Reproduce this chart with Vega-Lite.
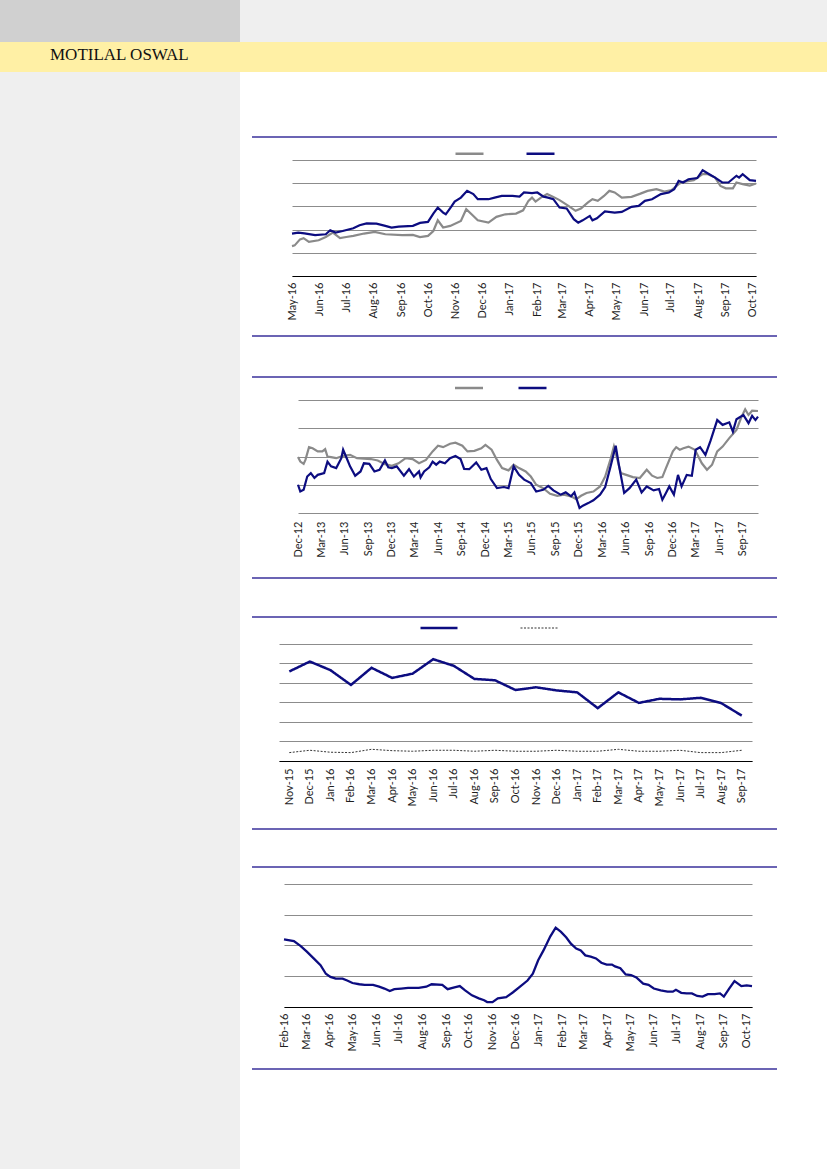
{
  "$schema": "https://vega.github.io/schema/vega-lite/v6.json",
  "padding": 0,
  "background": "#ffffff",
  "spacing": 0,
  "bounds": "full",
  "config": {
    "view": {"stroke": null},
    "axisX": {"labelAngle": -90, "labelFont": "Lato", "labelFontSize": 11, "labelColor": "#1e1e1e", "ticks": false, "grid": false, "domainColor": "#000000", "domainWidth": 1, "labelOverlap": false, "labelFlush": false, "labelBound": false, "labelPadding": 6},
    "axisY": {"labels": false, "ticks": false, "domain": false, "grid": true, "gridColor": "#8c8c8c", "gridWidth": 1}
  },
  "datasets": {
    "c1": [
      {"date": "2016-05-01", "series": "Series 1", "value": 62.9},
      {"date": "2016-05-04", "series": "Series 1", "value": 63.2},
      {"date": "2016-05-10", "series": "Series 1", "value": 65.8},
      {"date": "2016-05-14", "series": "Series 1", "value": 66.3},
      {"date": "2016-05-20", "series": "Series 1", "value": 64.7},
      {"date": "2016-05-31", "series": "Series 1", "value": 65.4},
      {"date": "2016-06-08", "series": "Series 1", "value": 66.8},
      {"date": "2016-06-16", "series": "Series 1", "value": 68.7},
      {"date": "2016-06-24", "series": "Series 1", "value": 66.3},
      {"date": "2016-07-01", "series": "Series 1", "value": 66.8},
      {"date": "2016-07-09", "series": "Series 1", "value": 67.3},
      {"date": "2016-07-21", "series": "Series 1", "value": 68.3},
      {"date": "2016-08-02", "series": "Series 1", "value": 69.0},
      {"date": "2016-08-14", "series": "Series 1", "value": 68.0},
      {"date": "2016-09-02", "series": "Series 1", "value": 67.6},
      {"date": "2016-09-14", "series": "Series 1", "value": 67.7},
      {"date": "2016-09-22", "series": "Series 1", "value": 66.8},
      {"date": "2016-10-01", "series": "Series 1", "value": 67.3},
      {"date": "2016-10-07", "series": "Series 1", "value": 69.4},
      {"date": "2016-10-12", "series": "Series 1", "value": 74.0},
      {"date": "2016-10-18", "series": "Series 1", "value": 70.9},
      {"date": "2016-10-26", "series": "Series 1", "value": 71.6},
      {"date": "2016-11-07", "series": "Series 1", "value": 73.7},
      {"date": "2016-11-13", "series": "Series 1", "value": 78.8},
      {"date": "2016-11-19", "series": "Series 1", "value": 76.6},
      {"date": "2016-11-26", "series": "Series 1", "value": 74.0},
      {"date": "2016-12-08", "series": "Series 1", "value": 73.0},
      {"date": "2016-12-17", "series": "Series 1", "value": 75.5},
      {"date": "2016-12-27", "series": "Series 1", "value": 76.6},
      {"date": "2017-01-08", "series": "Series 1", "value": 76.9},
      {"date": "2017-01-16", "series": "Series 1", "value": 78.3},
      {"date": "2017-01-22", "series": "Series 1", "value": 82.4},
      {"date": "2017-01-26", "series": "Series 1", "value": 83.8},
      {"date": "2017-01-30", "series": "Series 1", "value": 82.1},
      {"date": "2017-02-05", "series": "Series 1", "value": 83.8},
      {"date": "2017-02-12", "series": "Series 1", "value": 85.3},
      {"date": "2017-02-19", "series": "Series 1", "value": 84.1},
      {"date": "2017-02-26", "series": "Series 1", "value": 82.7},
      {"date": "2017-03-08", "series": "Series 1", "value": 80.2},
      {"date": "2017-03-16", "series": "Series 1", "value": 78.1},
      {"date": "2017-03-22", "series": "Series 1", "value": 79.1},
      {"date": "2017-03-30", "series": "Series 1", "value": 81.7},
      {"date": "2017-04-04", "series": "Series 1", "value": 83.1},
      {"date": "2017-04-10", "series": "Series 1", "value": 82.4},
      {"date": "2017-04-17", "series": "Series 1", "value": 84.5},
      {"date": "2017-04-23", "series": "Series 1", "value": 86.7},
      {"date": "2017-04-29", "series": "Series 1", "value": 86.0},
      {"date": "2017-05-07", "series": "Series 1", "value": 83.8},
      {"date": "2017-05-18", "series": "Series 1", "value": 84.1},
      {"date": "2017-05-28", "series": "Series 1", "value": 85.5},
      {"date": "2017-06-05", "series": "Series 1", "value": 86.7},
      {"date": "2017-06-15", "series": "Series 1", "value": 87.4},
      {"date": "2017-06-24", "series": "Series 1", "value": 86.4},
      {"date": "2017-07-02", "series": "Series 1", "value": 87.0},
      {"date": "2017-07-10", "series": "Series 1", "value": 89.6},
      {"date": "2017-07-15", "series": "Series 1", "value": 90.6},
      {"date": "2017-07-27", "series": "Series 1", "value": 91.3},
      {"date": "2017-08-06", "series": "Series 1", "value": 93.9},
      {"date": "2017-08-12", "series": "Series 1", "value": 93.9},
      {"date": "2017-08-20", "series": "Series 1", "value": 92.4},
      {"date": "2017-08-26", "series": "Series 1", "value": 88.8},
      {"date": "2017-09-01", "series": "Series 1", "value": 87.8},
      {"date": "2017-09-09", "series": "Series 1", "value": 87.8},
      {"date": "2017-09-13", "series": "Series 1", "value": 90.3},
      {"date": "2017-09-20", "series": "Series 1", "value": 89.6},
      {"date": "2017-09-28", "series": "Series 1", "value": 89.0},
      {"date": "2017-10-05", "series": "Series 1", "value": 89.9},
      {"date": "2016-05-01", "series": "Series 2", "value": 68.3},
      {"date": "2016-05-08", "series": "Series 2", "value": 68.7},
      {"date": "2016-05-15", "series": "Series 2", "value": 68.4},
      {"date": "2016-05-27", "series": "Series 2", "value": 67.6},
      {"date": "2016-06-08", "series": "Series 2", "value": 68.0},
      {"date": "2016-06-13", "series": "Series 2", "value": 69.7},
      {"date": "2016-06-19", "series": "Series 2", "value": 68.7},
      {"date": "2016-06-27", "series": "Series 2", "value": 69.4},
      {"date": "2016-07-09", "series": "Series 2", "value": 70.6},
      {"date": "2016-07-16", "series": "Series 2", "value": 71.9},
      {"date": "2016-07-24", "series": "Series 2", "value": 72.7},
      {"date": "2016-08-04", "series": "Series 2", "value": 72.6},
      {"date": "2016-08-14", "series": "Series 2", "value": 71.6},
      {"date": "2016-08-21", "series": "Series 2", "value": 70.9},
      {"date": "2016-08-29", "series": "Series 2", "value": 71.3},
      {"date": "2016-09-14", "series": "Series 2", "value": 71.6},
      {"date": "2016-09-22", "series": "Series 2", "value": 72.9},
      {"date": "2016-10-01", "series": "Series 2", "value": 73.3},
      {"date": "2016-10-07", "series": "Series 2", "value": 76.9},
      {"date": "2016-10-12", "series": "Series 2", "value": 79.5},
      {"date": "2016-10-18", "series": "Series 2", "value": 77.3},
      {"date": "2016-10-21", "series": "Series 2", "value": 76.6},
      {"date": "2016-10-27", "series": "Series 2", "value": 79.8},
      {"date": "2016-10-31", "series": "Series 2", "value": 82.1},
      {"date": "2016-11-07", "series": "Series 2", "value": 83.8},
      {"date": "2016-11-14", "series": "Series 2", "value": 86.7},
      {"date": "2016-11-21", "series": "Series 2", "value": 85.3},
      {"date": "2016-11-26", "series": "Series 2", "value": 83.1},
      {"date": "2016-12-08", "series": "Series 2", "value": 83.1},
      {"date": "2016-12-15", "series": "Series 2", "value": 83.8},
      {"date": "2016-12-23", "series": "Series 2", "value": 84.5},
      {"date": "2017-01-04", "series": "Series 2", "value": 84.5},
      {"date": "2017-01-12", "series": "Series 2", "value": 84.2},
      {"date": "2017-01-17", "series": "Series 2", "value": 86.0},
      {"date": "2017-01-26", "series": "Series 2", "value": 85.7},
      {"date": "2017-02-01", "series": "Series 2", "value": 86.0},
      {"date": "2017-02-08", "series": "Series 2", "value": 84.2},
      {"date": "2017-02-13", "series": "Series 2", "value": 83.8},
      {"date": "2017-02-19", "series": "Series 2", "value": 83.1},
      {"date": "2017-02-26", "series": "Series 2", "value": 79.5},
      {"date": "2017-03-06", "series": "Series 2", "value": 79.1},
      {"date": "2017-03-14", "series": "Series 2", "value": 74.5},
      {"date": "2017-03-19", "series": "Series 2", "value": 73.0},
      {"date": "2017-03-24", "series": "Series 2", "value": 74.0},
      {"date": "2017-04-01", "series": "Series 2", "value": 75.9},
      {"date": "2017-04-04", "series": "Series 2", "value": 74.0},
      {"date": "2017-04-09", "series": "Series 2", "value": 74.9},
      {"date": "2017-04-18", "series": "Series 2", "value": 77.8},
      {"date": "2017-04-29", "series": "Series 2", "value": 77.3},
      {"date": "2017-05-07", "series": "Series 2", "value": 77.6},
      {"date": "2017-05-18", "series": "Series 2", "value": 79.8},
      {"date": "2017-05-26", "series": "Series 2", "value": 80.2},
      {"date": "2017-06-02", "series": "Series 2", "value": 82.4},
      {"date": "2017-06-10", "series": "Series 2", "value": 83.1},
      {"date": "2017-06-20", "series": "Series 2", "value": 85.3},
      {"date": "2017-06-29", "series": "Series 2", "value": 86.0},
      {"date": "2017-07-05", "series": "Series 2", "value": 87.4},
      {"date": "2017-07-10", "series": "Series 2", "value": 91.0},
      {"date": "2017-07-15", "series": "Series 2", "value": 90.3},
      {"date": "2017-07-21", "series": "Series 2", "value": 91.7},
      {"date": "2017-07-31", "series": "Series 2", "value": 92.2},
      {"date": "2017-08-06", "series": "Series 2", "value": 95.6},
      {"date": "2017-08-12", "series": "Series 2", "value": 94.2},
      {"date": "2017-08-20", "series": "Series 2", "value": 92.4},
      {"date": "2017-08-28", "series": "Series 2", "value": 90.3},
      {"date": "2017-09-04", "series": "Series 2", "value": 90.3},
      {"date": "2017-09-13", "series": "Series 2", "value": 93.2},
      {"date": "2017-09-16", "series": "Series 2", "value": 92.4},
      {"date": "2017-09-20", "series": "Series 2", "value": 93.9},
      {"date": "2017-09-28", "series": "Series 2", "value": 91.3},
      {"date": "2017-10-05", "series": "Series 2", "value": 91.0}
    ],
    "c2": [
      {"date": "2012-12-01", "series": "Series 1", "value": 19.8},
      {"date": "2012-12-10", "series": "Series 1", "value": 18.2},
      {"date": "2012-12-23", "series": "Series 1", "value": 17.4},
      {"date": "2012-12-30", "series": "Series 1", "value": 18.8},
      {"date": "2013-01-13", "series": "Series 1", "value": 23.3},
      {"date": "2013-01-27", "series": "Series 1", "value": 22.9},
      {"date": "2013-02-16", "series": "Series 1", "value": 21.8},
      {"date": "2013-03-06", "series": "Series 1", "value": 21.8},
      {"date": "2013-03-17", "series": "Series 1", "value": 22.6},
      {"date": "2013-03-26", "series": "Series 1", "value": 20.0},
      {"date": "2013-04-09", "series": "Series 1", "value": 19.8},
      {"date": "2013-04-29", "series": "Series 1", "value": 19.4},
      {"date": "2013-05-26", "series": "Series 1", "value": 20.2},
      {"date": "2013-06-22", "series": "Series 1", "value": 20.6},
      {"date": "2013-07-19", "series": "Series 1", "value": 19.4},
      {"date": "2013-08-15", "series": "Series 1", "value": 19.2},
      {"date": "2013-09-11", "series": "Series 1", "value": 19.1},
      {"date": "2013-10-08", "series": "Series 1", "value": 18.6},
      {"date": "2013-11-05", "series": "Series 1", "value": 17.3},
      {"date": "2013-12-02", "series": "Series 1", "value": 16.7},
      {"date": "2013-12-28", "series": "Series 1", "value": 17.6},
      {"date": "2014-01-25", "series": "Series 1", "value": 19.4},
      {"date": "2014-02-21", "series": "Series 1", "value": 19.1},
      {"date": "2014-03-18", "series": "Series 1", "value": 17.6},
      {"date": "2014-04-14", "series": "Series 1", "value": 18.8},
      {"date": "2014-05-10", "series": "Series 1", "value": 21.8},
      {"date": "2014-05-31", "series": "Series 1", "value": 23.8},
      {"date": "2014-06-20", "series": "Series 1", "value": 23.3},
      {"date": "2014-07-17", "series": "Series 1", "value": 24.5},
      {"date": "2014-08-07", "series": "Series 1", "value": 24.9},
      {"date": "2014-09-03", "series": "Series 1", "value": 23.8},
      {"date": "2014-09-23", "series": "Series 1", "value": 21.8},
      {"date": "2014-10-20", "series": "Series 1", "value": 22.0},
      {"date": "2014-11-16", "series": "Series 1", "value": 22.9},
      {"date": "2014-12-02", "series": "Series 1", "value": 24.1},
      {"date": "2014-12-26", "series": "Series 1", "value": 22.4},
      {"date": "2015-01-16", "series": "Series 1", "value": 18.8},
      {"date": "2015-02-05", "series": "Series 1", "value": 15.9},
      {"date": "2015-03-02", "series": "Series 1", "value": 15.1},
      {"date": "2015-03-22", "series": "Series 1", "value": 17.1},
      {"date": "2015-04-12", "series": "Series 1", "value": 15.9},
      {"date": "2015-05-08", "series": "Series 1", "value": 14.7},
      {"date": "2015-05-28", "series": "Series 1", "value": 12.9},
      {"date": "2015-06-18", "series": "Series 1", "value": 10.0},
      {"date": "2015-07-15", "series": "Series 1", "value": 8.8},
      {"date": "2015-08-11", "series": "Series 1", "value": 6.8},
      {"date": "2015-09-08", "series": "Series 1", "value": 6.1},
      {"date": "2015-10-04", "series": "Series 1", "value": 6.5},
      {"date": "2015-11-01", "series": "Series 1", "value": 5.9},
      {"date": "2015-11-21", "series": "Series 1", "value": 4.9},
      {"date": "2015-12-10", "series": "Series 1", "value": 6.1},
      {"date": "2015-12-31", "series": "Series 1", "value": 7.1},
      {"date": "2016-01-27", "series": "Series 1", "value": 7.6},
      {"date": "2016-02-22", "series": "Series 1", "value": 9.4},
      {"date": "2016-03-13", "series": "Series 1", "value": 12.9},
      {"date": "2016-04-03", "series": "Series 1", "value": 19.1},
      {"date": "2016-04-16", "series": "Series 1", "value": 23.5},
      {"date": "2016-04-29", "series": "Series 1", "value": 19.1},
      {"date": "2016-05-13", "series": "Series 1", "value": 14.1},
      {"date": "2016-06-03", "series": "Series 1", "value": 13.5},
      {"date": "2016-06-29", "series": "Series 1", "value": 12.7},
      {"date": "2016-07-26", "series": "Series 1", "value": 12.4},
      {"date": "2016-08-22", "series": "Series 1", "value": 15.3},
      {"date": "2016-09-12", "series": "Series 1", "value": 13.2},
      {"date": "2016-10-02", "series": "Series 1", "value": 12.4},
      {"date": "2016-10-22", "series": "Series 1", "value": 12.7},
      {"date": "2016-11-05", "series": "Series 1", "value": 15.9},
      {"date": "2016-12-02", "series": "Series 1", "value": 21.8},
      {"date": "2016-12-15", "series": "Series 1", "value": 23.3},
      {"date": "2016-12-29", "series": "Series 1", "value": 22.4},
      {"date": "2017-01-12", "series": "Series 1", "value": 22.9},
      {"date": "2017-02-01", "series": "Series 1", "value": 23.5},
      {"date": "2017-02-26", "series": "Series 1", "value": 22.4},
      {"date": "2017-03-25", "series": "Series 1", "value": 17.6},
      {"date": "2017-04-14", "series": "Series 1", "value": 15.3},
      {"date": "2017-05-04", "series": "Series 1", "value": 17.1},
      {"date": "2017-05-24", "series": "Series 1", "value": 21.8},
      {"date": "2017-06-14", "series": "Series 1", "value": 23.5},
      {"date": "2017-07-10", "series": "Series 1", "value": 26.5},
      {"date": "2017-08-07", "series": "Series 1", "value": 29.4},
      {"date": "2017-08-27", "series": "Series 1", "value": 34.1},
      {"date": "2017-09-10", "series": "Series 1", "value": 36.7},
      {"date": "2017-09-23", "series": "Series 1", "value": 34.7},
      {"date": "2017-10-07", "series": "Series 1", "value": 36.2},
      {"date": "2017-10-30", "series": "Series 1", "value": 36.1},
      {"date": "2012-12-01", "series": "Series 2", "value": 10.0},
      {"date": "2012-12-10", "series": "Series 2", "value": 7.6},
      {"date": "2012-12-23", "series": "Series 2", "value": 8.2},
      {"date": "2013-01-06", "series": "Series 2", "value": 12.9},
      {"date": "2013-01-20", "series": "Series 2", "value": 14.1},
      {"date": "2013-02-03", "series": "Series 2", "value": 12.4},
      {"date": "2013-02-16", "series": "Series 2", "value": 13.5},
      {"date": "2013-03-13", "series": "Series 2", "value": 14.1},
      {"date": "2013-03-26", "series": "Series 2", "value": 18.2},
      {"date": "2013-04-09", "series": "Series 2", "value": 16.5},
      {"date": "2013-04-29", "series": "Series 2", "value": 15.9},
      {"date": "2013-05-19", "series": "Series 2", "value": 19.4},
      {"date": "2013-05-26", "series": "Series 2", "value": 22.4},
      {"date": "2013-06-09", "series": "Series 2", "value": 19.4},
      {"date": "2013-06-22", "series": "Series 2", "value": 16.5},
      {"date": "2013-07-12", "series": "Series 2", "value": 13.2},
      {"date": "2013-08-02", "series": "Series 2", "value": 14.7},
      {"date": "2013-08-15", "series": "Series 2", "value": 17.6},
      {"date": "2013-09-05", "series": "Series 2", "value": 17.4},
      {"date": "2013-09-25", "series": "Series 2", "value": 14.7},
      {"date": "2013-10-15", "series": "Series 2", "value": 15.3},
      {"date": "2013-11-05", "series": "Series 2", "value": 18.6},
      {"date": "2013-11-18", "series": "Series 2", "value": 16.2},
      {"date": "2013-12-02", "series": "Series 2", "value": 15.9},
      {"date": "2013-12-21", "series": "Series 2", "value": 16.5},
      {"date": "2014-01-18", "series": "Series 2", "value": 13.2},
      {"date": "2014-02-07", "series": "Series 2", "value": 15.5},
      {"date": "2014-02-26", "series": "Series 2", "value": 12.9},
      {"date": "2014-03-18", "series": "Series 2", "value": 14.7},
      {"date": "2014-03-24", "series": "Series 2", "value": 12.6},
      {"date": "2014-04-07", "series": "Series 2", "value": 14.7},
      {"date": "2014-04-27", "series": "Series 2", "value": 16.2},
      {"date": "2014-05-10", "series": "Series 2", "value": 18.2},
      {"date": "2014-05-24", "series": "Series 2", "value": 17.1},
      {"date": "2014-06-07", "series": "Series 2", "value": 18.2},
      {"date": "2014-06-27", "series": "Series 2", "value": 17.6},
      {"date": "2014-07-17", "series": "Series 2", "value": 19.4},
      {"date": "2014-08-07", "series": "Series 2", "value": 20.2},
      {"date": "2014-08-27", "series": "Series 2", "value": 19.1},
      {"date": "2014-09-10", "series": "Series 2", "value": 15.6},
      {"date": "2014-09-30", "series": "Series 2", "value": 15.5},
      {"date": "2014-10-27", "series": "Series 2", "value": 17.9},
      {"date": "2014-11-16", "series": "Series 2", "value": 15.3},
      {"date": "2014-12-06", "series": "Series 2", "value": 15.9},
      {"date": "2014-12-23", "series": "Series 2", "value": 12.0},
      {"date": "2015-01-16", "series": "Series 2", "value": 8.8},
      {"date": "2015-02-12", "series": "Series 2", "value": 9.2},
      {"date": "2015-03-02", "series": "Series 2", "value": 8.8},
      {"date": "2015-03-22", "series": "Series 2", "value": 16.5},
      {"date": "2015-04-12", "series": "Series 2", "value": 13.5},
      {"date": "2015-05-02", "series": "Series 2", "value": 11.8},
      {"date": "2015-05-28", "series": "Series 2", "value": 10.6},
      {"date": "2015-06-18", "series": "Series 2", "value": 7.6},
      {"date": "2015-07-15", "series": "Series 2", "value": 8.2},
      {"date": "2015-08-04", "series": "Series 2", "value": 9.6},
      {"date": "2015-08-24", "series": "Series 2", "value": 8.0},
      {"date": "2015-09-21", "series": "Series 2", "value": 6.5},
      {"date": "2015-10-11", "series": "Series 2", "value": 7.3},
      {"date": "2015-11-01", "series": "Series 2", "value": 5.9},
      {"date": "2015-11-14", "series": "Series 2", "value": 7.3},
      {"date": "2015-12-04", "series": "Series 2", "value": 1.8},
      {"date": "2015-12-17", "series": "Series 2", "value": 2.6},
      {"date": "2016-01-07", "series": "Series 2", "value": 3.5},
      {"date": "2016-01-27", "series": "Series 2", "value": 4.5},
      {"date": "2016-02-22", "series": "Series 2", "value": 6.5},
      {"date": "2016-03-13", "series": "Series 2", "value": 9.2},
      {"date": "2016-04-03", "series": "Series 2", "value": 16.5},
      {"date": "2016-04-23", "series": "Series 2", "value": 23.8},
      {"date": "2016-05-06", "series": "Series 2", "value": 16.7},
      {"date": "2016-05-26", "series": "Series 2", "value": 7.1},
      {"date": "2016-06-16", "series": "Series 2", "value": 8.8},
      {"date": "2016-07-12", "series": "Series 2", "value": 11.8},
      {"date": "2016-08-02", "series": "Series 2", "value": 7.3},
      {"date": "2016-08-22", "series": "Series 2", "value": 9.4},
      {"date": "2016-09-18", "series": "Series 2", "value": 8.0},
      {"date": "2016-10-09", "series": "Series 2", "value": 8.5},
      {"date": "2016-10-22", "series": "Series 2", "value": 4.7},
      {"date": "2016-11-05", "series": "Series 2", "value": 7.1},
      {"date": "2016-11-18", "series": "Series 2", "value": 9.4},
      {"date": "2016-12-06", "series": "Series 2", "value": 6.5},
      {"date": "2016-12-22", "series": "Series 2", "value": 13.5},
      {"date": "2017-01-05", "series": "Series 2", "value": 9.4},
      {"date": "2017-01-25", "series": "Series 2", "value": 13.5},
      {"date": "2017-02-14", "series": "Series 2", "value": 13.2},
      {"date": "2017-03-01", "series": "Series 2", "value": 22.4},
      {"date": "2017-03-18", "series": "Series 2", "value": 23.3},
      {"date": "2017-04-08", "series": "Series 2", "value": 20.6},
      {"date": "2017-04-28", "series": "Series 2", "value": 25.6},
      {"date": "2017-05-24", "series": "Series 2", "value": 32.9},
      {"date": "2017-06-14", "series": "Series 2", "value": 31.2},
      {"date": "2017-07-10", "series": "Series 2", "value": 32.1},
      {"date": "2017-07-24", "series": "Series 2", "value": 28.8},
      {"date": "2017-08-07", "series": "Series 2", "value": 33.2},
      {"date": "2017-09-03", "series": "Series 2", "value": 34.7},
      {"date": "2017-09-23", "series": "Series 2", "value": 31.8},
      {"date": "2017-10-07", "series": "Series 2", "value": 34.4},
      {"date": "2017-10-20", "series": "Series 2", "value": 32.9},
      {"date": "2017-10-30", "series": "Series 2", "value": 34.1}
    ],
    "c3": [
      {"month": "Nov-15", "series": "Series 1", "value": 45.9},
      {"month": "Dec-15", "series": "Series 1", "value": 51.0},
      {"month": "Jan-16", "series": "Series 1", "value": 46.6},
      {"month": "Feb-16", "series": "Series 1", "value": 39.0},
      {"month": "Mar-16", "series": "Series 1", "value": 47.8},
      {"month": "Apr-16", "series": "Series 1", "value": 42.6},
      {"month": "May-16", "series": "Series 1", "value": 44.8},
      {"month": "Jun-16", "series": "Series 1", "value": 52.2},
      {"month": "Jul-16", "series": "Series 1", "value": 48.8},
      {"month": "Aug-16", "series": "Series 1", "value": 42.1},
      {"month": "Sep-16", "series": "Series 1", "value": 41.4},
      {"month": "Oct-16", "series": "Series 1", "value": 36.4},
      {"month": "Nov-16", "series": "Series 1", "value": 37.8},
      {"month": "Dec-16", "series": "Series 1", "value": 36.2},
      {"month": "Jan-17", "series": "Series 1", "value": 35.2},
      {"month": "Feb-17", "series": "Series 1", "value": 27.1},
      {"month": "Mar-17", "series": "Series 1", "value": 35.2},
      {"month": "Apr-17", "series": "Series 1", "value": 29.8},
      {"month": "May-17", "series": "Series 1", "value": 31.9},
      {"month": "Jun-17", "series": "Series 1", "value": 31.6},
      {"month": "Jul-17", "series": "Series 1", "value": 32.4},
      {"month": "Aug-17", "series": "Series 1", "value": 29.7},
      {"month": "Sep-17", "series": "Series 1", "value": 23.3},
      {"month": "Nov-15", "series": "Series 2", "value": 4.3},
      {"month": "Dec-15", "series": "Series 2", "value": 5.5},
      {"month": "Jan-16", "series": "Series 2", "value": 4.5},
      {"month": "Feb-16", "series": "Series 2", "value": 4.3},
      {"month": "Mar-16", "series": "Series 2", "value": 6.0},
      {"month": "Apr-16", "series": "Series 2", "value": 5.3},
      {"month": "May-16", "series": "Series 2", "value": 5.0},
      {"month": "Jun-16", "series": "Series 2", "value": 5.5},
      {"month": "Jul-16", "series": "Series 2", "value": 5.5},
      {"month": "Aug-16", "series": "Series 2", "value": 5.0},
      {"month": "Sep-16", "series": "Series 2", "value": 5.5},
      {"month": "Oct-16", "series": "Series 2", "value": 5.0},
      {"month": "Nov-16", "series": "Series 2", "value": 5.0},
      {"month": "Dec-16", "series": "Series 2", "value": 5.5},
      {"month": "Jan-17", "series": "Series 2", "value": 5.0},
      {"month": "Feb-17", "series": "Series 2", "value": 5.0},
      {"month": "Mar-17", "series": "Series 2", "value": 6.0},
      {"month": "Apr-17", "series": "Series 2", "value": 5.0},
      {"month": "May-17", "series": "Series 2", "value": 5.0},
      {"month": "Jun-17", "series": "Series 2", "value": 5.5},
      {"month": "Jul-17", "series": "Series 2", "value": 4.3},
      {"month": "Aug-17", "series": "Series 2", "value": 4.3},
      {"month": "Sep-17", "series": "Series 2", "value": 5.5}
    ],
    "c4": [
      {"date": "2016-02-01", "value": 11.0},
      {"date": "2016-02-14", "value": 10.7},
      {"date": "2016-02-23", "value": 9.9},
      {"date": "2016-03-02", "value": 9.0},
      {"date": "2016-03-11", "value": 7.9},
      {"date": "2016-03-20", "value": 6.8},
      {"date": "2016-03-27", "value": 5.4},
      {"date": "2016-04-02", "value": 4.9},
      {"date": "2016-04-09", "value": 4.6},
      {"date": "2016-04-18", "value": 4.6},
      {"date": "2016-04-24", "value": 4.3},
      {"date": "2016-05-01", "value": 3.9},
      {"date": "2016-05-10", "value": 3.7},
      {"date": "2016-05-17", "value": 3.6},
      {"date": "2016-05-28", "value": 3.6},
      {"date": "2016-06-05", "value": 3.3},
      {"date": "2016-06-12", "value": 3.0},
      {"date": "2016-06-19", "value": 2.6},
      {"date": "2016-06-25", "value": 2.9},
      {"date": "2016-07-04", "value": 3.0},
      {"date": "2016-07-13", "value": 3.1},
      {"date": "2016-07-27", "value": 3.1},
      {"date": "2016-08-06", "value": 3.3},
      {"date": "2016-08-13", "value": 3.7},
      {"date": "2016-08-27", "value": 3.6},
      {"date": "2016-09-03", "value": 2.9},
      {"date": "2016-09-12", "value": 3.2},
      {"date": "2016-09-19", "value": 3.4},
      {"date": "2016-09-26", "value": 2.7},
      {"date": "2016-10-05", "value": 1.9},
      {"date": "2016-10-14", "value": 1.4},
      {"date": "2016-10-21", "value": 1.1},
      {"date": "2016-10-25", "value": 0.8},
      {"date": "2016-11-01", "value": 0.8},
      {"date": "2016-11-08", "value": 1.4},
      {"date": "2016-11-19", "value": 1.6},
      {"date": "2016-11-28", "value": 2.4},
      {"date": "2016-12-08", "value": 3.4},
      {"date": "2016-12-17", "value": 4.3},
      {"date": "2016-12-24", "value": 5.4},
      {"date": "2016-12-31", "value": 7.6},
      {"date": "2017-01-07", "value": 9.2},
      {"date": "2017-01-16", "value": 11.5},
      {"date": "2017-01-23", "value": 12.9},
      {"date": "2017-01-30", "value": 12.2},
      {"date": "2017-02-06", "value": 11.3},
      {"date": "2017-02-12", "value": 10.3},
      {"date": "2017-02-19", "value": 9.5},
      {"date": "2017-02-25", "value": 9.2},
      {"date": "2017-03-03", "value": 8.4},
      {"date": "2017-03-10", "value": 8.2},
      {"date": "2017-03-17", "value": 7.9},
      {"date": "2017-03-24", "value": 7.2},
      {"date": "2017-03-31", "value": 6.9},
      {"date": "2017-04-07", "value": 6.9},
      {"date": "2017-04-11", "value": 6.6},
      {"date": "2017-04-18", "value": 6.3},
      {"date": "2017-04-25", "value": 5.3},
      {"date": "2017-05-02", "value": 5.2},
      {"date": "2017-05-09", "value": 4.8},
      {"date": "2017-05-18", "value": 3.8},
      {"date": "2017-05-25", "value": 3.6},
      {"date": "2017-06-01", "value": 3.0},
      {"date": "2017-06-10", "value": 2.7},
      {"date": "2017-06-19", "value": 2.5},
      {"date": "2017-06-26", "value": 2.5},
      {"date": "2017-06-30", "value": 2.8},
      {"date": "2017-07-07", "value": 2.3},
      {"date": "2017-07-14", "value": 2.2},
      {"date": "2017-07-21", "value": 2.2},
      {"date": "2017-07-28", "value": 1.8},
      {"date": "2017-08-04", "value": 1.7},
      {"date": "2017-08-11", "value": 2.1},
      {"date": "2017-08-20", "value": 2.1},
      {"date": "2017-08-27", "value": 2.2},
      {"date": "2017-09-01", "value": 1.7},
      {"date": "2017-09-08", "value": 3.0},
      {"date": "2017-09-15", "value": 4.2},
      {"date": "2017-09-24", "value": 3.4},
      {"date": "2017-10-01", "value": 3.5},
      {"date": "2017-10-08", "value": 3.4}
    ]
  },
  "vconcat": [
    {
      "hconcat": [
        {"width": 240, "height": 42, "view": {"fill": "#d0d0d0", "stroke": null}, "data": {"values": []}, "mark": "point", "encoding": {}},
        {"width": 587, "height": 42, "view": {"fill": "#efefef", "stroke": null}, "data": {"values": []}, "mark": "point", "encoding": {}}
      ],
      "spacing": 0,
      "bounds": "flush"
    },
    {
      "width": 827, "height": 30,
      "view": {"fill": "#fff0a5", "stroke": null},
      "title": {"text": "MOTILAL OSWAL", "anchor": "start", "frame": "group", "orient": "top", "offset": 0, "dx": 50, "dy": 35, "baseline": "alphabetic", "font": "Liberation Serif", "fontSize": 17, "fontWeight": "normal", "color": "#111111"},
      "data": {"values": []}, "mark": "point", "encoding": {}
    },
    {
      "hconcat": [
        {"width": 240, "height": 1097, "view": {"fill": "#efefef", "stroke": null}, "data": {"values": []}, "mark": "point", "encoding": {}},
        {
          "vconcat": [
            {"width": 1, "height": 64, "data": {"values": []}, "mark": "point", "encoding": {}},
            {"width": 525, "height": 2, "view": {"fill": "#6b64b4", "stroke": null}, "data": {"values": []}, "mark": "point", "encoding": {}},
            {
              "hconcat": [
                {"width": 40, "height": 197, "data": {"values": []}, "mark": "point", "encoding": {}},
                {
                  "width": 464, "height": 138,
                  "data": {"name": "c1"},
                  "mark": {"type": "line", "strokeWidth": 2.2},
                  "encoding": {
                    "x": {"field": "date", "type": "temporal", "title": null, "scale": {"type": "utc", "nice": false}, "axis": {"labelExpr": "utcFormat(datum.value, '%b-%y')", "tickCount": {"interval": "month", "step": 1}, "labelPadding": 6}},
                    "y": {"field": "value", "type": "quantitative", "title": null, "scale": {"domain": [50, 109.48], "nice": false, "zero": false}, "axis": {"values": [50, 60, 70, 80, 90, 100]}},
                    "color": {"field": "series", "type": "nominal", "scale": {"domain": ["Series 1", "Series 2"], "range": ["#8a8a8a", "#0c0c80"]}, "legend": {"orient": "none", "direction": "horizontal", "title": null, "labelExpr": "''", "symbolType": "stroke", "padding": 0, "labelOffset": 5, "legendX": 162, "legendY": 0, "symbolSize": 784, "symbolStrokeWidth": 2.5, "columnPadding": 31}}
                  }
                }
              ],
              "spacing": 0,
              "bounds": "flush",
              "resolve": {"scale": {"color": "independent"}, "legend": {"color": "independent"}}
            },
            {"width": 525, "height": 2, "view": {"fill": "#6b64b4", "stroke": null}, "data": {"values": []}, "mark": "point", "encoding": {}},
            {"width": 1, "height": 39, "data": {"values": []}, "mark": "point", "encoding": {}},
            {"width": 525, "height": 2, "view": {"fill": "#6b64b4", "stroke": null}, "data": {"values": []}, "mark": "point", "encoding": {}},
            {
              "hconcat": [
                {"width": 46, "height": 199, "data": {"values": []}, "mark": "point", "encoding": {}},
                {
                  "width": 460, "height": 135,
                  "data": {"name": "c2"},
                  "mark": {"type": "line", "strokeWidth": 2.2},
                  "encoding": {
                    "x": {"field": "date", "type": "temporal", "title": null, "scale": {"type": "utc", "nice": false}, "axis": {"labelExpr": "utcFormat(datum.value, '%b-%y')", "domain": false, "labelPadding": 8, "values": [
                      {"year": 2012, "month": 12, "date": 1, "utc": true},
                      {"year": 2013, "month": 3, "date": 1, "utc": true},
                      {"year": 2013, "month": 6, "date": 1, "utc": true},
                      {"year": 2013, "month": 9, "date": 1, "utc": true},
                      {"year": 2013, "month": 12, "date": 1, "utc": true},
                      {"year": 2014, "month": 3, "date": 1, "utc": true},
                      {"year": 2014, "month": 6, "date": 1, "utc": true},
                      {"year": 2014, "month": 9, "date": 1, "utc": true},
                      {"year": 2014, "month": 12, "date": 1, "utc": true},
                      {"year": 2015, "month": 3, "date": 1, "utc": true},
                      {"year": 2015, "month": 6, "date": 1, "utc": true},
                      {"year": 2015, "month": 9, "date": 1, "utc": true},
                      {"year": 2015, "month": 12, "date": 1, "utc": true},
                      {"year": 2016, "month": 3, "date": 1, "utc": true},
                      {"year": 2016, "month": 6, "date": 1, "utc": true},
                      {"year": 2016, "month": 9, "date": 1, "utc": true},
                      {"year": 2016, "month": 12, "date": 1, "utc": true},
                      {"year": 2017, "month": 3, "date": 1, "utc": true},
                      {"year": 2017, "month": 6, "date": 1, "utc": true},
                      {"year": 2017, "month": 9, "date": 1, "utc": true}
                    ]}},
                    "y": {"field": "value", "type": "quantitative", "title": null, "scale": {"domain": [0, 47.79], "nice": false}, "axis": {"values": [0, 10, 20, 30, 40]}},
                    "color": {"field": "series", "type": "nominal", "scale": {"domain": ["Series 1", "Series 2"], "range": ["#8a8a8a", "#0c0c80"]}, "legend": {"orient": "none", "direction": "horizontal", "title": null, "labelExpr": "''", "symbolType": "M-14,0H14", "padding": 0, "labelOffset": 5, "legendX": 166, "legendY": 5, "symbolSize": 4, "symbolStrokeWidth": 2.5, "columnPadding": 25.5}}
                  }
                }
              ],
              "spacing": 0,
              "bounds": "flush",
              "resolve": {"scale": {"color": "independent"}, "legend": {"color": "independent"}}
            },
            {"width": 525, "height": 2, "view": {"fill": "#6b64b4", "stroke": null}, "data": {"values": []}, "mark": "point", "encoding": {}},
            {"width": 1, "height": 37, "data": {"values": []}, "mark": "point", "encoding": {}},
            {"width": 525, "height": 2, "view": {"fill": "#6b64b4", "stroke": null}, "data": {"values": []}, "mark": "point", "encoding": {}},
            {
              "hconcat": [
                {"width": 27, "height": 210, "data": {"values": []}, "mark": "point", "encoding": {}},
                {
                  "width": 473, "height": 143,
                  "data": {"name": "c3"},
                  "mark": {"type": "line"},
                  "encoding": {
                    "x": {"field": "month", "type": "ordinal", "sort": null, "title": null, "scale": {"type": "point", "padding": 0.5}, "axis": {"labelPadding": 7}},
                    "y": {"field": "value", "type": "quantitative", "title": null, "scale": {"domain": [0, 73.33], "nice": false}, "axis": {"values": [0, 10, 20, 30, 40, 50, 60]}},
                    "color": {"field": "series", "type": "nominal", "scale": {"domain": ["Series 1", "Series 2"], "range": ["#0c0c80", "#333333"]}, "legend": {"orient": "none", "direction": "horizontal", "title": null, "labelExpr": "''", "symbolType": "stroke", "padding": 0, "labelOffset": 5, "legendX": 155, "legendY": 5, "symbolSize": 1369, "symbolStrokeWidth": 2, "columnPadding": 55, "encode": {"symbols": {"update": {"strokeWidth": {"signal": "datum.value === 'Series 1' ? 2.5 : 1"}}}}}},
                    "strokeDash": {"field": "series", "type": "nominal", "scale": {"domain": ["Series 1", "Series 2"], "range": [[1, 0], [2, 1.5]]}},
                    "strokeWidth": {"condition": {"test": "datum.series === 'Series 1'", "value": 2.5}, "value": 1}
                  }
                }
              ],
              "spacing": 0,
              "bounds": "flush",
              "resolve": {"scale": {"color": "independent", "strokeDash": "independent"}, "legend": {"color": "independent", "strokeDash": "independent"}}
            },
            {"width": 525, "height": 2, "view": {"fill": "#6b64b4", "stroke": null}, "data": {"values": []}, "mark": "point", "encoding": {}},
            {"width": 1, "height": 36, "data": {"values": []}, "mark": "point", "encoding": {}},
            {"width": 525, "height": 2, "view": {"fill": "#6b64b4", "stroke": null}, "data": {"values": []}, "mark": "point", "encoding": {}},
            {
              "hconcat": [
                {"width": 32, "height": 200, "data": {"values": []}, "mark": "point", "encoding": {}},
                {
                  "width": 468, "height": 139,
                  "data": {"name": "c4"},
                  "mark": {"type": "line", "strokeWidth": 2.3, "color": "#0c0c80"},
                  "encoding": {
                    "x": {"field": "date", "type": "temporal", "title": null, "scale": {"type": "utc", "nice": false}, "axis": {"labelExpr": "utcFormat(datum.value, '%b-%y')", "tickCount": {"interval": "month", "step": 1}, "labelPadding": 6}},
                    "y": {"field": "value", "type": "quantitative", "title": null, "scale": {"domain": [0, 22.6], "nice": false}, "axis": {"values": [0, 5, 10, 15, 20]}}
                  }
                }
              ],
              "spacing": 0,
              "bounds": "flush"
            },
            {"width": 525, "height": 2, "view": {"fill": "#6b64b4", "stroke": null}, "data": {"values": []}, "mark": "point", "encoding": {}},
            {"width": 1, "height": 99, "data": {"values": []}, "mark": "point", "encoding": {}}
          ],
          "spacing": 0,
          "bounds": "full",
          "resolve": {"scale": {"color": "independent", "strokeDash": "independent"}, "legend": {"color": "independent", "strokeDash": "independent"}}
        }
      ],
      "spacing": 12,
      "bounds": "full"
    }
  ]
}
